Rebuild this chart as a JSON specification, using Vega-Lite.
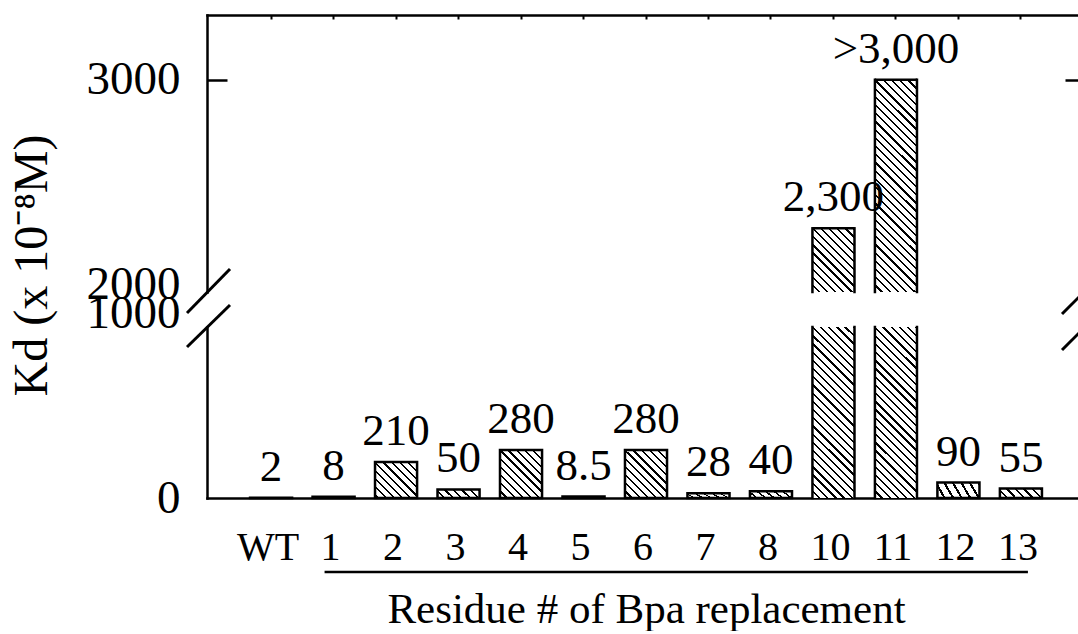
{
  "$schema": "https://vega.github.io/schema/vega-lite/v6.json",
  "background": "white",
  "padding": {"left": 7, "top": 14, "right": 0, "bottom": 0},
  "bounds": "flush",
  "spacing": 35,
  "datasets": {
    "kd": [
      {"residue": "WT", "kd": 2, "label": "2"},
      {"residue": "1", "kd": 8, "label": "8"},
      {"residue": "2", "kd": 210, "label": "210"},
      {"residue": "3", "kd": 50, "label": "50"},
      {"residue": "4", "kd": 280, "label": "280"},
      {"residue": "5", "kd": 8.5, "label": "8.5"},
      {"residue": "6", "kd": 280, "label": "280"},
      {"residue": "7", "kd": 28, "label": "28"},
      {"residue": "8", "kd": 40, "label": "40"},
      {"residue": "10", "kd": 2300, "label": "2,300"},
      {"residue": "11", "kd": 3000, "label": ">3,000"},
      {"residue": "12", "kd": 90, "label": "90"},
      {"residue": "13", "kd": 55, "label": "55"}
    ]
  },
  "vconcat": [
    {
      "width": 878,
      "height": 277,
      "data": {"name": "kd"},
      "layer": [
        {
          "transform": [{"filter": {"field": "residue", "equal": "10"}}],
          "mark": {"type": "bar", "strokeWidth": 0, "fill": {"gradient": "linear", "x1": 1, "y1": 0, "x2": 0.2374, "y2": 1.1566, "stops": [
            {"offset": 0, "color": "#000"}, {"offset": 0.0215, "color": "#000"}, {"offset": 0.0215, "color": "#fff"}, {"offset": 0.0769, "color": "#fff"},
            {"offset": 0.0769, "color": "#000"}, {"offset": 0.0985, "color": "#000"}, {"offset": 0.0985, "color": "#fff"}, {"offset": 0.1538, "color": "#fff"},
            {"offset": 0.1538, "color": "#000"}, {"offset": 0.1754, "color": "#000"}, {"offset": 0.1754, "color": "#fff"}, {"offset": 0.2308, "color": "#fff"},
            {"offset": 0.2308, "color": "#000"}, {"offset": 0.2523, "color": "#000"}, {"offset": 0.2523, "color": "#fff"}, {"offset": 0.3077, "color": "#fff"},
            {"offset": 0.3077, "color": "#000"}, {"offset": 0.3292, "color": "#000"}, {"offset": 0.3292, "color": "#fff"}, {"offset": 0.3846, "color": "#fff"},
            {"offset": 0.3846, "color": "#000"}, {"offset": 0.4062, "color": "#000"}, {"offset": 0.4062, "color": "#fff"}, {"offset": 0.4615, "color": "#fff"},
            {"offset": 0.4615, "color": "#000"}, {"offset": 0.4831, "color": "#000"}, {"offset": 0.4831, "color": "#fff"}, {"offset": 0.5385, "color": "#fff"},
            {"offset": 0.5385, "color": "#000"}, {"offset": 0.56, "color": "#000"}, {"offset": 0.56, "color": "#fff"}, {"offset": 0.6154, "color": "#fff"},
            {"offset": 0.6154, "color": "#000"}, {"offset": 0.6369, "color": "#000"}, {"offset": 0.6369, "color": "#fff"}, {"offset": 0.6923, "color": "#fff"},
            {"offset": 0.6923, "color": "#000"}, {"offset": 0.7138, "color": "#000"}, {"offset": 0.7138, "color": "#fff"}, {"offset": 0.7692, "color": "#fff"},
            {"offset": 0.7692, "color": "#000"}, {"offset": 0.7908, "color": "#000"}, {"offset": 0.7908, "color": "#fff"}, {"offset": 0.8462, "color": "#fff"},
            {"offset": 0.8462, "color": "#000"}, {"offset": 0.8677, "color": "#000"}, {"offset": 0.8677, "color": "#fff"}, {"offset": 0.9231, "color": "#fff"},
            {"offset": 0.9231, "color": "#000"}, {"offset": 0.9446, "color": "#000"}, {"offset": 0.9446, "color": "#fff"}, {"offset": 1, "color": "#fff"}
          ]}},
          "encoding": {
            "x": {"field": "residue", "type": "nominal", "sort": null,
                  "scale": {"domain": ["WT", "1", "2", "3", "4", "5", "6", "7", "8", "10", "11", "12", "13"], "paddingInner": 0.327, "paddingOuter": 0.689},
                  "axis": {"orient": "top", "labels": false, "ticks": true, "tickSize": -4, "tickWidth": 2, "domainCap": "square", "title": null}},
            "y": {"field": "kd", "type": "quantitative", "scale": {"domain": [2000, 3305], "nice": false, "zero": false},
                  "axis": {"orient": "left", "values": [2000, 3000], "format": "d", "labelFontSize": 47, "labelPadding": 47, "tickSize": -20, "domainCap": "square",
                           "labelOffset": {"condition": {"test": "datum.value === 2000", "value": -8}, "value": 0},
                           "tickOpacity": {"condition": {"test": "datum.value === 3000", "value": 1}, "value": 0},
                           "title": "Kd (x 10⁻⁸M)", "titleFontSize": 48, "titleAngle": -90, "titleX": -161, "titleY": 250, "titleAlign": "center", "titleBaseline": "alphabetic"}},
            "y2": {"datum": 2000}
          }
        },
        {
          "transform": [{"filter": {"field": "residue", "equal": "11"}}],
          "mark": {"type": "bar", "strokeWidth": 0, "fill": {"gradient": "linear", "x1": 1, "y1": 0, "x2": 0.7721, "y2": 1.1527, "stops": [
            {"offset": 0, "color": "#000"}, {"offset": 0.009, "color": "#000"}, {"offset": 0.009, "color": "#fff"}, {"offset": 0.0323, "color": "#fff"},
            {"offset": 0.0323, "color": "#000"}, {"offset": 0.0413, "color": "#000"}, {"offset": 0.0413, "color": "#fff"}, {"offset": 0.0645, "color": "#fff"},
            {"offset": 0.0645, "color": "#000"}, {"offset": 0.0735, "color": "#000"}, {"offset": 0.0735, "color": "#fff"}, {"offset": 0.0968, "color": "#fff"},
            {"offset": 0.0968, "color": "#000"}, {"offset": 0.1058, "color": "#000"}, {"offset": 0.1058, "color": "#fff"}, {"offset": 0.129, "color": "#fff"},
            {"offset": 0.129, "color": "#000"}, {"offset": 0.138, "color": "#000"}, {"offset": 0.138, "color": "#fff"}, {"offset": 0.1613, "color": "#fff"},
            {"offset": 0.1613, "color": "#000"}, {"offset": 0.1703, "color": "#000"}, {"offset": 0.1703, "color": "#fff"}, {"offset": 0.1935, "color": "#fff"},
            {"offset": 0.1935, "color": "#000"}, {"offset": 0.2025, "color": "#000"}, {"offset": 0.2025, "color": "#fff"}, {"offset": 0.2258, "color": "#fff"},
            {"offset": 0.2258, "color": "#000"}, {"offset": 0.2348, "color": "#000"}, {"offset": 0.2348, "color": "#fff"}, {"offset": 0.2581, "color": "#fff"},
            {"offset": 0.2581, "color": "#000"}, {"offset": 0.2671, "color": "#000"}, {"offset": 0.2671, "color": "#fff"}, {"offset": 0.2903, "color": "#fff"},
            {"offset": 0.2903, "color": "#000"}, {"offset": 0.2993, "color": "#000"}, {"offset": 0.2993, "color": "#fff"}, {"offset": 0.3226, "color": "#fff"},
            {"offset": 0.3226, "color": "#000"}, {"offset": 0.3316, "color": "#000"}, {"offset": 0.3316, "color": "#fff"}, {"offset": 0.3548, "color": "#fff"},
            {"offset": 0.3548, "color": "#000"}, {"offset": 0.3638, "color": "#000"}, {"offset": 0.3638, "color": "#fff"}, {"offset": 0.3871, "color": "#fff"},
            {"offset": 0.3871, "color": "#000"}, {"offset": 0.3961, "color": "#000"}, {"offset": 0.3961, "color": "#fff"}, {"offset": 0.4194, "color": "#fff"},
            {"offset": 0.4194, "color": "#000"}, {"offset": 0.4284, "color": "#000"}, {"offset": 0.4284, "color": "#fff"}, {"offset": 0.4516, "color": "#fff"},
            {"offset": 0.4516, "color": "#000"}, {"offset": 0.4606, "color": "#000"}, {"offset": 0.4606, "color": "#fff"}, {"offset": 0.4839, "color": "#fff"},
            {"offset": 0.4839, "color": "#000"}, {"offset": 0.4929, "color": "#000"}, {"offset": 0.4929, "color": "#fff"}, {"offset": 0.5161, "color": "#fff"},
            {"offset": 0.5161, "color": "#000"}, {"offset": 0.5251, "color": "#000"}, {"offset": 0.5251, "color": "#fff"}, {"offset": 0.5484, "color": "#fff"},
            {"offset": 0.5484, "color": "#000"}, {"offset": 0.5574, "color": "#000"}, {"offset": 0.5574, "color": "#fff"}, {"offset": 0.5806, "color": "#fff"},
            {"offset": 0.5806, "color": "#000"}, {"offset": 0.5896, "color": "#000"}, {"offset": 0.5896, "color": "#fff"}, {"offset": 0.6129, "color": "#fff"},
            {"offset": 0.6129, "color": "#000"}, {"offset": 0.6219, "color": "#000"}, {"offset": 0.6219, "color": "#fff"}, {"offset": 0.6452, "color": "#fff"},
            {"offset": 0.6452, "color": "#000"}, {"offset": 0.6542, "color": "#000"}, {"offset": 0.6542, "color": "#fff"}, {"offset": 0.6774, "color": "#fff"},
            {"offset": 0.6774, "color": "#000"}, {"offset": 0.6864, "color": "#000"}, {"offset": 0.6864, "color": "#fff"}, {"offset": 0.7097, "color": "#fff"},
            {"offset": 0.7097, "color": "#000"}, {"offset": 0.7187, "color": "#000"}, {"offset": 0.7187, "color": "#fff"}, {"offset": 0.7419, "color": "#fff"},
            {"offset": 0.7419, "color": "#000"}, {"offset": 0.7509, "color": "#000"}, {"offset": 0.7509, "color": "#fff"}, {"offset": 0.7742, "color": "#fff"},
            {"offset": 0.7742, "color": "#000"}, {"offset": 0.7832, "color": "#000"}, {"offset": 0.7832, "color": "#fff"}, {"offset": 0.8065, "color": "#fff"},
            {"offset": 0.8065, "color": "#000"}, {"offset": 0.8155, "color": "#000"}, {"offset": 0.8155, "color": "#fff"}, {"offset": 0.8387, "color": "#fff"},
            {"offset": 0.8387, "color": "#000"}, {"offset": 0.8477, "color": "#000"}, {"offset": 0.8477, "color": "#fff"}, {"offset": 0.871, "color": "#fff"},
            {"offset": 0.871, "color": "#000"}, {"offset": 0.88, "color": "#000"}, {"offset": 0.88, "color": "#fff"}, {"offset": 0.9032, "color": "#fff"},
            {"offset": 0.9032, "color": "#000"}, {"offset": 0.9122, "color": "#000"}, {"offset": 0.9122, "color": "#fff"}, {"offset": 0.9355, "color": "#fff"},
            {"offset": 0.9355, "color": "#000"}, {"offset": 0.9445, "color": "#000"}, {"offset": 0.9445, "color": "#fff"}, {"offset": 0.9677, "color": "#fff"},
            {"offset": 0.9677, "color": "#000"}, {"offset": 0.9767, "color": "#000"}, {"offset": 0.9767, "color": "#fff"}, {"offset": 1, "color": "#fff"}
          ]}},
          "encoding": {
            "x": {"field": "residue", "type": "nominal", "sort": null,
                  "scale": {"domain": ["WT", "1", "2", "3", "4", "5", "6", "7", "8", "10", "11", "12", "13"], "paddingInner": 0.327, "paddingOuter": 0.689}, "axis": null},
            "y": {"field": "kd", "type": "quantitative", "scale": {"domain": [2000, 3305], "nice": false, "zero": false}, "axis": null},
            "y2": {"datum": 2000}
          }
        },
        {
          "transform": [{"filter": {"field": "residue", "oneOf": ["10", "11"]}}],
          "mark": {"type": "rule", "stroke": "#000", "strokeWidth": 2.5, "strokeCap": "square"},
          "encoding": {
            "x": {"field": "residue", "type": "nominal", "sort": null, "bandPosition": 0,
                  "scale": {"domain": ["WT", "1", "2", "3", "4", "5", "6", "7", "8", "10", "11", "12", "13"], "paddingInner": 0.327, "paddingOuter": 0.689}, "axis": null},
            "y": {"field": "kd", "type": "quantitative", "scale": {"domain": [2000, 3305], "nice": false, "zero": false}, "axis": null},
            "y2": {"datum": 2000}
          }
        },
        {
          "transform": [{"filter": {"field": "residue", "oneOf": ["10", "11"]}}],
          "mark": {"type": "rule", "stroke": "#000", "strokeWidth": 2.5, "strokeCap": "square"},
          "encoding": {
            "x": {"field": "residue", "type": "nominal", "sort": null, "bandPosition": 1,
                  "scale": {"domain": ["WT", "1", "2", "3", "4", "5", "6", "7", "8", "10", "11", "12", "13"], "paddingInner": 0.327, "paddingOuter": 0.689}, "axis": null},
            "y": {"field": "kd", "type": "quantitative", "scale": {"domain": [2000, 3305], "nice": false, "zero": false},
                  "axis": {"orient": "right", "values": [3000], "labels": false, "tickSize": -20, "domainCap": "square", "title": null}},
            "y2": {"datum": 2000}
          }
        },
        {
          "transform": [{"filter": {"field": "residue", "oneOf": ["10", "11"]}}],
          "mark": {"type": "bar", "filled": false, "stroke": "#000", "strokeWidth": 2.5},
          "encoding": {
            "x": {"field": "residue", "type": "nominal", "sort": null,
                  "scale": {"domain": ["WT", "1", "2", "3", "4", "5", "6", "7", "8", "10", "11", "12", "13"], "paddingInner": 0.327, "paddingOuter": 0.689}, "axis": null},
            "y": {"field": "kd", "type": "quantitative", "scale": {"domain": [2000, 3305], "nice": false, "zero": false}, "axis": null},
            "y2": {"field": "kd"}
          }
        },
        {
          "transform": [{"filter": "datum.kd >= 2000"}],
          "mark": {"type": "text", "baseline": "alphabetic", "dy": -17, "fontSize": 45, "font": "Liberation Serif", "color": "#000"},
          "encoding": {
            "x": {"field": "residue", "type": "nominal", "sort": null,
                  "scale": {"domain": ["WT", "1", "2", "3", "4", "5", "6", "7", "8", "10", "11", "12", "13"], "paddingInner": 0.327, "paddingOuter": 0.689}, "axis": null},
            "y": {"field": "kd", "type": "quantitative", "scale": {"domain": [2000, 3305], "nice": false, "zero": false}, "axis": null},
            "text": {"field": "label"}
          }
        },
        {
          "data": {"values": [{}]},
          "mark": {"type": "rule", "stroke": "#000", "strokeWidth": 3, "xOffset": -63.05, "x2Offset": -20.05, "yOffset": 21, "y2Offset": -23},
          "encoding": {
            "x": {"datum": "WT", "type": "nominal", "bandPosition": 0,
                  "scale": {"domain": ["WT", "1", "2", "3", "4", "5", "6", "7", "8", "10", "11", "12", "13"], "paddingInner": 0.327, "paddingOuter": 0.689}, "axis": null},
            "x2": {"datum": "WT", "bandPosition": 0},
            "y": {"datum": 2000, "type": "quantitative", "scale": {"domain": [2000, 3305], "nice": false, "zero": false}, "axis": null},
            "y2": {"datum": 2000}
          }
        },
        {
          "data": {"values": [{}]},
          "mark": {"type": "rule", "stroke": "#000", "strokeWidth": 3, "xOffset": 20.05, "x2Offset": 63.05, "yOffset": 22, "y2Offset": -21},
          "encoding": {
            "x": {"datum": "13", "type": "nominal", "bandPosition": 1,
                  "scale": {"domain": ["WT", "1", "2", "3", "4", "5", "6", "7", "8", "10", "11", "12", "13"], "paddingInner": 0.327, "paddingOuter": 0.689}, "axis": null},
            "x2": {"datum": "13", "bandPosition": 1},
            "y": {"datum": 2000, "type": "quantitative", "scale": {"domain": [2000, 3305], "nice": false, "zero": false}, "axis": null},
            "y2": {"datum": 2000}
          }
        }
      ],
      "resolve": {"axis": {"x": "independent", "y": "independent"}}
    },
    {
      "width": 878,
      "height": 171,
      "data": {"name": "kd"},
      "layer": [
        {
          "transform": [{"filter": {"field": "residue", "oneOf": ["WT", "1", "3", "5", "7", "8", "12", "13"]}}],
          "mark": {"type": "bar", "stroke": "#000", "strokeWidth": 2.5, "fill": {"gradient": "linear", "x1": 1, "y1": 0, "x2": -0.161, "y2": 0.249, "stops": [
            {"offset": 0, "color": "#000"}, {"offset": 0.0467, "color": "#000"}, {"offset": 0.0467, "color": "#fff"}, {"offset": 0.1667, "color": "#fff"},
            {"offset": 0.1667, "color": "#000"}, {"offset": 0.2133, "color": "#000"}, {"offset": 0.2133, "color": "#fff"}, {"offset": 0.3333, "color": "#fff"},
            {"offset": 0.3333, "color": "#000"}, {"offset": 0.38, "color": "#000"}, {"offset": 0.38, "color": "#fff"}, {"offset": 0.5, "color": "#fff"},
            {"offset": 0.5, "color": "#000"}, {"offset": 0.5467, "color": "#000"}, {"offset": 0.5467, "color": "#fff"}, {"offset": 0.6667, "color": "#fff"},
            {"offset": 0.6667, "color": "#000"}, {"offset": 0.7133, "color": "#000"}, {"offset": 0.7133, "color": "#fff"}, {"offset": 0.8333, "color": "#fff"},
            {"offset": 0.8333, "color": "#000"}, {"offset": 0.88, "color": "#000"}, {"offset": 0.88, "color": "#fff"}, {"offset": 1, "color": "#fff"}
          ]}},
          "encoding": {
            "x": {"field": "residue", "type": "nominal", "sort": null,
                  "scale": {"domain": ["WT", "1", "2", "3", "4", "5", "6", "7", "8", "10", "11", "12", "13"], "paddingInner": 0.327, "paddingOuter": 0.689},
                  "axis": {"orient": "bottom", "ticks": false, "labelAngle": 0, "labelFontSize": 40, "labelBaseline": "alphabetic", "labelPadding": 61, "labelOffset": -3,
                           "domainCap": "square", "title": "Residue # of Bpa replacement", "titleFontSize": 43, "titleBaseline": "alphabetic", "titleY": 124}},
            "y": {"field": "kd", "type": "quantitative", "scale": {"domain": [0, 1000], "nice": false, "zero": true, "clamp": true},
                  "axis": {"orient": "left", "values": [0, 1000], "format": "d", "ticks": false, "labelFontSize": 47, "labelPadding": 27, "domainCap": "square", "title": null,
                           "labelOffset": {"condition": {"test": "datum.value === 1000", "value": -14}, "value": 0}}}
          }
        },
        {
          "transform": [{"filter": {"field": "residue", "equal": "2"}}],
          "mark": {"type": "bar", "stroke": "#000", "strokeWidth": 2.5, "fill": {"gradient": "linear", "x1": 1, "y1": 0, "x2": -0.0717, "y2": 0.9161, "stops": [
            {"offset": 0, "color": "#000"}, {"offset": 0.0295, "color": "#000"}, {"offset": 0.0295, "color": "#fff"}, {"offset": 0.1053, "color": "#fff"},
            {"offset": 0.1053, "color": "#000"}, {"offset": 0.1347, "color": "#000"}, {"offset": 0.1347, "color": "#fff"}, {"offset": 0.2105, "color": "#fff"},
            {"offset": 0.2105, "color": "#000"}, {"offset": 0.24, "color": "#000"}, {"offset": 0.24, "color": "#fff"}, {"offset": 0.3158, "color": "#fff"},
            {"offset": 0.3158, "color": "#000"}, {"offset": 0.3453, "color": "#000"}, {"offset": 0.3453, "color": "#fff"}, {"offset": 0.4211, "color": "#fff"},
            {"offset": 0.4211, "color": "#000"}, {"offset": 0.4505, "color": "#000"}, {"offset": 0.4505, "color": "#fff"}, {"offset": 0.5263, "color": "#fff"},
            {"offset": 0.5263, "color": "#000"}, {"offset": 0.5558, "color": "#000"}, {"offset": 0.5558, "color": "#fff"}, {"offset": 0.6316, "color": "#fff"},
            {"offset": 0.6316, "color": "#000"}, {"offset": 0.6611, "color": "#000"}, {"offset": 0.6611, "color": "#fff"}, {"offset": 0.7368, "color": "#fff"},
            {"offset": 0.7368, "color": "#000"}, {"offset": 0.7663, "color": "#000"}, {"offset": 0.7663, "color": "#fff"}, {"offset": 0.8421, "color": "#fff"},
            {"offset": 0.8421, "color": "#000"}, {"offset": 0.8716, "color": "#000"}, {"offset": 0.8716, "color": "#fff"}, {"offset": 0.9474, "color": "#fff"},
            {"offset": 0.9474, "color": "#000"}, {"offset": 0.9768, "color": "#000"}, {"offset": 0.9768, "color": "#fff"}, {"offset": 1, "color": "#fff"}
          ]}},
          "encoding": {
            "x": {"field": "residue", "type": "nominal", "sort": null,
                  "scale": {"domain": ["WT", "1", "2", "3", "4", "5", "6", "7", "8", "10", "11", "12", "13"], "paddingInner": 0.327, "paddingOuter": 0.689}, "axis": null},
            "y": {"field": "kd", "type": "quantitative", "scale": {"domain": [0, 1000], "nice": false, "zero": true, "clamp": true}, "axis": null}
          }
        },
        {
          "transform": [{"filter": {"field": "residue", "oneOf": ["4", "6"]}}],
          "mark": {"type": "bar", "stroke": "#000", "strokeWidth": 2.5, "fill": {"gradient": "linear", "x1": 1, "y1": 0, "x2": 0.07, "y2": 1.061, "stops": [
            {"offset": 0, "color": "#000"}, {"offset": 0.0255, "color": "#000"}, {"offset": 0.0255, "color": "#fff"}, {"offset": 0.0909, "color": "#fff"},
            {"offset": 0.0909, "color": "#000"}, {"offset": 0.1164, "color": "#000"}, {"offset": 0.1164, "color": "#fff"}, {"offset": 0.1818, "color": "#fff"},
            {"offset": 0.1818, "color": "#000"}, {"offset": 0.2073, "color": "#000"}, {"offset": 0.2073, "color": "#fff"}, {"offset": 0.2727, "color": "#fff"},
            {"offset": 0.2727, "color": "#000"}, {"offset": 0.2982, "color": "#000"}, {"offset": 0.2982, "color": "#fff"}, {"offset": 0.3636, "color": "#fff"},
            {"offset": 0.3636, "color": "#000"}, {"offset": 0.3891, "color": "#000"}, {"offset": 0.3891, "color": "#fff"}, {"offset": 0.4545, "color": "#fff"},
            {"offset": 0.4545, "color": "#000"}, {"offset": 0.48, "color": "#000"}, {"offset": 0.48, "color": "#fff"}, {"offset": 0.5455, "color": "#fff"},
            {"offset": 0.5455, "color": "#000"}, {"offset": 0.5709, "color": "#000"}, {"offset": 0.5709, "color": "#fff"}, {"offset": 0.6364, "color": "#fff"},
            {"offset": 0.6364, "color": "#000"}, {"offset": 0.6618, "color": "#000"}, {"offset": 0.6618, "color": "#fff"}, {"offset": 0.7273, "color": "#fff"},
            {"offset": 0.7273, "color": "#000"}, {"offset": 0.7527, "color": "#000"}, {"offset": 0.7527, "color": "#fff"}, {"offset": 0.8182, "color": "#fff"},
            {"offset": 0.8182, "color": "#000"}, {"offset": 0.8436, "color": "#000"}, {"offset": 0.8436, "color": "#fff"}, {"offset": 0.9091, "color": "#fff"},
            {"offset": 0.9091, "color": "#000"}, {"offset": 0.9345, "color": "#000"}, {"offset": 0.9345, "color": "#fff"}, {"offset": 1, "color": "#fff"}
          ]}},
          "encoding": {
            "x": {"field": "residue", "type": "nominal", "sort": null,
                  "scale": {"domain": ["WT", "1", "2", "3", "4", "5", "6", "7", "8", "10", "11", "12", "13"], "paddingInner": 0.327, "paddingOuter": 0.689}, "axis": null},
            "y": {"field": "kd", "type": "quantitative", "scale": {"domain": [0, 1000], "nice": false, "zero": true, "clamp": true}, "axis": null}
          }
        },
        {
          "transform": [{"filter": {"field": "residue", "oneOf": ["10", "11"]}}],
          "mark": {"type": "bar", "strokeWidth": 0, "fill": {"gradient": "linear", "x1": 1, "y1": 0, "x2": 0.7115, "y2": 1.1747, "stops": [
            {"offset": 0, "color": "#000"}, {"offset": 0.0108, "color": "#000"}, {"offset": 0.0108, "color": "#fff"}, {"offset": 0.0385, "color": "#fff"},
            {"offset": 0.0385, "color": "#000"}, {"offset": 0.0492, "color": "#000"}, {"offset": 0.0492, "color": "#fff"}, {"offset": 0.0769, "color": "#fff"},
            {"offset": 0.0769, "color": "#000"}, {"offset": 0.0877, "color": "#000"}, {"offset": 0.0877, "color": "#fff"}, {"offset": 0.1154, "color": "#fff"},
            {"offset": 0.1154, "color": "#000"}, {"offset": 0.1262, "color": "#000"}, {"offset": 0.1262, "color": "#fff"}, {"offset": 0.1538, "color": "#fff"},
            {"offset": 0.1538, "color": "#000"}, {"offset": 0.1646, "color": "#000"}, {"offset": 0.1646, "color": "#fff"}, {"offset": 0.1923, "color": "#fff"},
            {"offset": 0.1923, "color": "#000"}, {"offset": 0.2031, "color": "#000"}, {"offset": 0.2031, "color": "#fff"}, {"offset": 0.2308, "color": "#fff"},
            {"offset": 0.2308, "color": "#000"}, {"offset": 0.2415, "color": "#000"}, {"offset": 0.2415, "color": "#fff"}, {"offset": 0.2692, "color": "#fff"},
            {"offset": 0.2692, "color": "#000"}, {"offset": 0.28, "color": "#000"}, {"offset": 0.28, "color": "#fff"}, {"offset": 0.3077, "color": "#fff"},
            {"offset": 0.3077, "color": "#000"}, {"offset": 0.3185, "color": "#000"}, {"offset": 0.3185, "color": "#fff"}, {"offset": 0.3462, "color": "#fff"},
            {"offset": 0.3462, "color": "#000"}, {"offset": 0.3569, "color": "#000"}, {"offset": 0.3569, "color": "#fff"}, {"offset": 0.3846, "color": "#fff"},
            {"offset": 0.3846, "color": "#000"}, {"offset": 0.3954, "color": "#000"}, {"offset": 0.3954, "color": "#fff"}, {"offset": 0.4231, "color": "#fff"},
            {"offset": 0.4231, "color": "#000"}, {"offset": 0.4338, "color": "#000"}, {"offset": 0.4338, "color": "#fff"}, {"offset": 0.4615, "color": "#fff"},
            {"offset": 0.4615, "color": "#000"}, {"offset": 0.4723, "color": "#000"}, {"offset": 0.4723, "color": "#fff"}, {"offset": 0.5, "color": "#fff"},
            {"offset": 0.5, "color": "#000"}, {"offset": 0.5108, "color": "#000"}, {"offset": 0.5108, "color": "#fff"}, {"offset": 0.5385, "color": "#fff"},
            {"offset": 0.5385, "color": "#000"}, {"offset": 0.5492, "color": "#000"}, {"offset": 0.5492, "color": "#fff"}, {"offset": 0.5769, "color": "#fff"},
            {"offset": 0.5769, "color": "#000"}, {"offset": 0.5877, "color": "#000"}, {"offset": 0.5877, "color": "#fff"}, {"offset": 0.6154, "color": "#fff"},
            {"offset": 0.6154, "color": "#000"}, {"offset": 0.6262, "color": "#000"}, {"offset": 0.6262, "color": "#fff"}, {"offset": 0.6538, "color": "#fff"},
            {"offset": 0.6538, "color": "#000"}, {"offset": 0.6646, "color": "#000"}, {"offset": 0.6646, "color": "#fff"}, {"offset": 0.6923, "color": "#fff"},
            {"offset": 0.6923, "color": "#000"}, {"offset": 0.7031, "color": "#000"}, {"offset": 0.7031, "color": "#fff"}, {"offset": 0.7308, "color": "#fff"},
            {"offset": 0.7308, "color": "#000"}, {"offset": 0.7415, "color": "#000"}, {"offset": 0.7415, "color": "#fff"}, {"offset": 0.7692, "color": "#fff"},
            {"offset": 0.7692, "color": "#000"}, {"offset": 0.78, "color": "#000"}, {"offset": 0.78, "color": "#fff"}, {"offset": 0.8077, "color": "#fff"},
            {"offset": 0.8077, "color": "#000"}, {"offset": 0.8185, "color": "#000"}, {"offset": 0.8185, "color": "#fff"}, {"offset": 0.8462, "color": "#fff"},
            {"offset": 0.8462, "color": "#000"}, {"offset": 0.8569, "color": "#000"}, {"offset": 0.8569, "color": "#fff"}, {"offset": 0.8846, "color": "#fff"},
            {"offset": 0.8846, "color": "#000"}, {"offset": 0.8954, "color": "#000"}, {"offset": 0.8954, "color": "#fff"}, {"offset": 0.9231, "color": "#fff"},
            {"offset": 0.9231, "color": "#000"}, {"offset": 0.9338, "color": "#000"}, {"offset": 0.9338, "color": "#fff"}, {"offset": 0.9615, "color": "#fff"},
            {"offset": 0.9615, "color": "#000"}, {"offset": 0.9723, "color": "#000"}, {"offset": 0.9723, "color": "#fff"}, {"offset": 1, "color": "#fff"}
          ]}},
          "encoding": {
            "x": {"field": "residue", "type": "nominal", "sort": null,
                  "scale": {"domain": ["WT", "1", "2", "3", "4", "5", "6", "7", "8", "10", "11", "12", "13"], "paddingInner": 0.327, "paddingOuter": 0.689}, "axis": null},
            "y": {"field": "kd", "type": "quantitative", "scale": {"domain": [0, 1000], "nice": false, "zero": true, "clamp": true}, "axis": null}
          }
        },
        {
          "transform": [{"filter": {"field": "residue", "oneOf": ["10", "11"]}}],
          "mark": {"type": "rule", "stroke": "#000", "strokeWidth": 2.5, "strokeCap": "square"},
          "encoding": {
            "x": {"field": "residue", "type": "nominal", "sort": null, "bandPosition": 0,
                  "scale": {"domain": ["WT", "1", "2", "3", "4", "5", "6", "7", "8", "10", "11", "12", "13"], "paddingInner": 0.327, "paddingOuter": 0.689}, "axis": null},
            "y": {"field": "kd", "type": "quantitative", "scale": {"domain": [0, 1000], "nice": false, "zero": true, "clamp": true}, "axis": null},
            "y2": {"datum": 0}
          }
        },
        {
          "transform": [{"filter": {"field": "residue", "oneOf": ["10", "11"]}}],
          "mark": {"type": "rule", "stroke": "#000", "strokeWidth": 2.5, "strokeCap": "square"},
          "encoding": {
            "x": {"field": "residue", "type": "nominal", "sort": null, "bandPosition": 1,
                  "scale": {"domain": ["WT", "1", "2", "3", "4", "5", "6", "7", "8", "10", "11", "12", "13"], "paddingInner": 0.327, "paddingOuter": 0.689}, "axis": null},
            "y": {"field": "kd", "type": "quantitative", "scale": {"domain": [0, 1000], "nice": false, "zero": true, "clamp": true}, "axis": null},
            "y2": {"datum": 0}
          }
        },
        {
          "transform": [{"filter": "datum.kd < 1000"}],
          "mark": {"type": "text", "baseline": "alphabetic", "dy": -17, "fontSize": 45, "font": "Liberation Serif", "color": "#000"},
          "encoding": {
            "x": {"field": "residue", "type": "nominal", "sort": null,
                  "scale": {"domain": ["WT", "1", "2", "3", "4", "5", "6", "7", "8", "10", "11", "12", "13"], "paddingInner": 0.327, "paddingOuter": 0.689}, "axis": null},
            "y": {"field": "kd", "type": "quantitative", "scale": {"domain": [0, 1000], "nice": false, "zero": true, "clamp": true}, "axis": null},
            "text": {"field": "label"}
          }
        },
        {
          "data": {"values": [{}]},
          "mark": {"type": "rule", "stroke": "#000", "strokeWidth": 2.5, "xOffset": -9, "x2Offset": 7, "yOffset": 74},
          "encoding": {
            "x": {"datum": "1", "type": "nominal", "bandPosition": 0.5,
                  "scale": {"domain": ["WT", "1", "2", "3", "4", "5", "6", "7", "8", "10", "11", "12", "13"], "paddingInner": 0.327, "paddingOuter": 0.689}, "axis": null},
            "x2": {"datum": "13", "bandPosition": 0.5},
            "y": {"datum": 0, "type": "quantitative", "scale": {"domain": [0, 1000], "nice": false, "zero": true, "clamp": true}, "axis": null}
          }
        },
        {
          "data": {"values": [{}]},
          "mark": {"type": "rule", "stroke": "#000", "strokeWidth": 3, "xOffset": -63.05, "x2Offset": -20.05, "yOffset": 20, "y2Offset": -22},
          "encoding": {
            "x": {"datum": "WT", "type": "nominal", "bandPosition": 0,
                  "scale": {"domain": ["WT", "1", "2", "3", "4", "5", "6", "7", "8", "10", "11", "12", "13"], "paddingInner": 0.327, "paddingOuter": 0.689}, "axis": null},
            "x2": {"datum": "WT", "bandPosition": 0},
            "y": {"datum": 1000, "type": "quantitative", "scale": {"domain": [0, 1000], "nice": false, "zero": true, "clamp": true}, "axis": null},
            "y2": {"datum": 1000}
          }
        },
        {
          "data": {"values": [{}]},
          "mark": {"type": "rule", "stroke": "#000", "strokeWidth": 3, "xOffset": 20.05, "x2Offset": 63.05, "yOffset": 23, "y2Offset": -20},
          "encoding": {
            "x": {"datum": "13", "type": "nominal", "bandPosition": 1,
                  "scale": {"domain": ["WT", "1", "2", "3", "4", "5", "6", "7", "8", "10", "11", "12", "13"], "paddingInner": 0.327, "paddingOuter": 0.689}, "axis": null},
            "x2": {"datum": "13", "bandPosition": 1},
            "y": {"datum": 1000, "type": "quantitative", "scale": {"domain": [0, 1000], "nice": false, "zero": true, "clamp": true}, "axis": null},
            "y2": {"datum": 1000}
          }
        }
      ],
      "resolve": {"axis": {"x": "independent", "y": "independent"}}
    }
  ],
  "config": {
    "view": {"stroke": null},
    "font": "Liberation Serif",
    "axis": {
      "grid": false,
      "domainColor": "#000",
      "tickColor": "#000",
      "labelColor": "#000",
      "titleColor": "#000",
      "labelFont": "Liberation Serif",
      "titleFont": "Liberation Serif",
      "titleFontWeight": "normal",
      "domainWidth": 2.5,
      "tickWidth": 2.5,
      "labelFlush": false,
      "labelOverlap": false
    },
    "text": {"font": "Liberation Serif", "color": "#000"}
  }
}
